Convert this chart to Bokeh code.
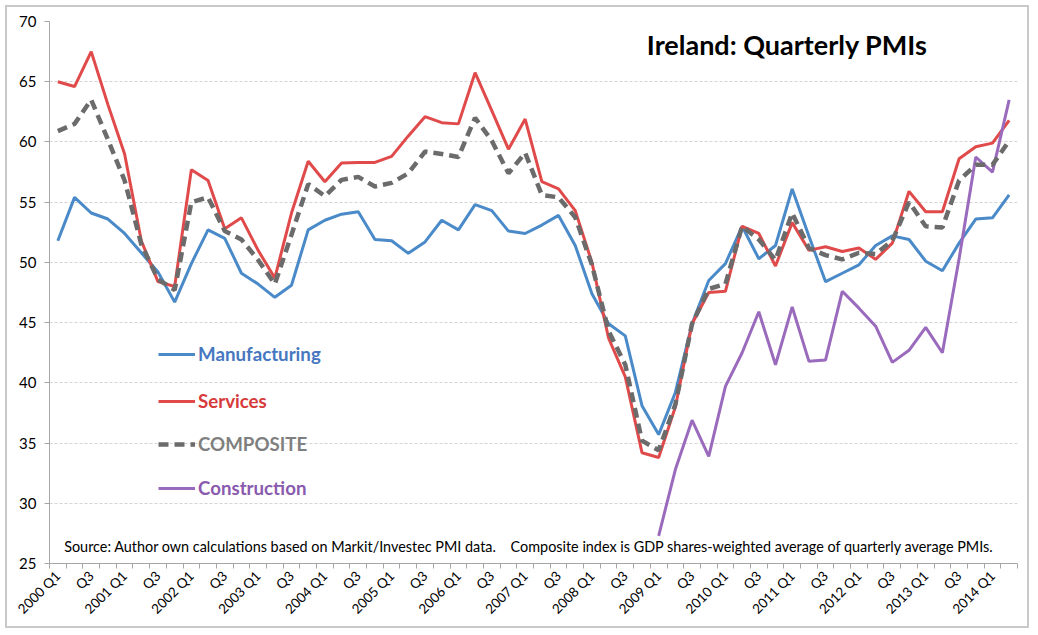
import math
from bokeh.plotting import figure
from bokeh.models import (Range1d, FixedTicker, Legend, LegendItem, Label)
from bokeh.embed import file_html
from bokeh.resources import INLINE

# ---------------- data ----------------
years = list(range(2000, 2015))
quarters = [f"{y} Q{q}" for y in years for q in (1, 2, 3, 4)][:58]  # 2000 Q1 .. 2014 Q2

manufacturing = [51.8, 55.4, 54.1, 53.6, 52.4, 50.8, 49.2, 46.7, 49.9, 52.7,
                 52.0, 49.1, 48.2, 47.1, 48.1, 52.7, 53.5, 54.0, 54.2, 51.9,
                 51.8, 50.75, 51.7, 53.5, 52.7, 54.8, 54.3, 52.6, 52.4, 53.1,
                 53.9, 51.4, 47.4, 44.9, 43.9, 38.1, 35.7, 39.2, 44.9, 48.5,
                 49.9, 53.0, 50.3, 51.4, 56.1, 52.2, 48.4, 49.1, 49.8, 51.4,
                 52.2, 51.9, 50.1, 49.3, 51.6, 53.6, 53.7, 55.6]

services = [65.0, 64.6, 67.5, 63.1, 59.0, 51.8, 48.4, 48.0, 57.7, 56.8,
            52.8, 53.7, 51.0, 48.7, 54.1, 58.4, 56.7, 58.25, 58.3, 58.3,
            58.8, 60.5, 62.1, 61.6, 61.5, 65.75, 62.6, 59.4, 61.9, 56.7,
            56.1, 54.3, 50.0, 43.7, 40.5, 34.2, 33.8, 38.0, 44.9, 47.5,
            47.6, 53.0, 52.4, 49.7, 53.3, 51.0, 51.3, 50.9, 51.2, 50.25,
            51.6, 55.9, 54.2, 54.2, 58.6, 59.6, 59.9, 61.8]

composite = [60.9, 61.5, 63.5, 60.2, 56.8, 51.5, 48.6, 47.7, 55.0, 55.4,
             52.6, 51.9, 50.2, 48.2, 52.3, 56.5, 55.5, 56.85, 57.1, 56.3,
             56.6, 57.4, 59.2, 59.0, 58.75, 62.0, 60.1, 57.4, 59.1, 55.6,
             55.4, 53.75, 49.8, 44.3, 41.5, 35.2, 34.4, 38.2, 44.9, 47.8,
             48.2, 53.0, 51.9, 50.2, 54.1, 51.2, 50.6, 50.25, 50.8, 50.7,
             51.8, 55.0, 53.0, 52.9, 56.8, 58.1, 58.1, 60.1]

# construction series starts 2009 Q1
construction_start = "2009 Q1"
construction = [27.3, 32.8, 36.9, 33.9, 39.7, 42.5, 45.9, 41.5, 46.3, 41.8,
                41.9, 47.6, 46.2, 44.7, 41.7, 42.7, 44.6, 42.5, 50.3, 58.75,
                57.5, 63.5]

y_ticks = [25, 30, 35, 40, 45, 50, 55, 60, 65, 70]

title_text = "Ireland: Quarterly PMIs"
NB = "\u00a0"
source_text = ("Source: Author own calculations based on Markit/Investec PMI data." + NB * 4 +
               "Composite index is GDP shares-weighted average of quarterly average PMIs.")

# ---------------- styling ----------------
FONT = "Lato"
C_MAN = "#4a8ac8"
C_SER = "#e04a4a"
C_COM = "#6b6b6b"
C_CON = "#9a6bbd"
T_MAN = "#4677c0"
T_SER = "#d63a3a"
T_COM = "#7f7f7f"
T_CON = "#8a5aae"

x_all = list(range(len(quarters)))
c0 = quarters.index(construction_start)
x_con = x_all[c0:c0 + len(construction)]

p = figure(width=1024, height=623, output_backend="svg", toolbar_location=None,
           x_range=Range1d(-0.5, len(quarters) - 0.5), y_range=Range1d(25, 70),
           min_border_left=42, min_border_right=14, min_border_top=14,
           min_border_bottom=67)
p.outline_line_color = None
p.background_fill_color = "white"
p.border_fill_color = "white"
p.styles = {"border": "2px solid #c9c9c9", "margin": "5px 0px 0px 5px"}

# axes
p.yaxis.ticker = FixedTicker(ticks=y_ticks)
p.yaxis.axis_line_color = "#a6a6a6"
p.yaxis.major_tick_line_color = "#a6a6a6"
p.yaxis.major_tick_out = 5
p.yaxis.major_tick_in = 0
p.yaxis.minor_tick_line_color = None
p.yaxis.major_label_text_font = FONT
p.yaxis.major_label_text_font_size = "15px"
p.yaxis.major_label_text_color = "black"
p.yaxis.major_label_standoff = 8

label_pos = [i for i, q in enumerate(quarters) if q.endswith("Q1") or q.endswith("Q3")]
overrides = {i: (quarters[i] if quarters[i].endswith("Q1") else "Q3") for i in label_pos}
p.xaxis.ticker = FixedTicker(ticks=label_pos,
                             minor_ticks=[i - 0.5 for i in range(len(quarters) + 1)])
p.xaxis.major_label_overrides = overrides
p.xaxis.major_label_orientation = math.pi / 4
p.xaxis.major_label_text_font = FONT
p.xaxis.major_label_text_font_size = "13.5px"
p.xaxis.major_label_text_color = "black"
p.xaxis.major_label_standoff = 4
p.xaxis.axis_line_color = "#a6a6a6"
p.xaxis.major_tick_line_color = None
p.xaxis.minor_tick_line_color = "#a6a6a6"
p.xaxis.minor_tick_out = 5
p.xaxis.minor_tick_in = 0

p.xgrid.grid_line_color = None
p.ygrid.grid_line_color = "#d4d4d4"
p.ygrid.grid_line_dash = "3 2"
p.ygrid.grid_line_width = 1

# series
r_man = p.line(x_all, manufacturing, line_color=C_MAN, line_width=3)
r_ser = p.line(x_all, services, line_color=C_SER, line_width=3)
r_con = p.line(x_con, construction, line_color=C_CON, line_width=3)
r_com = p.line(x_all, composite, line_color=C_COM, line_width=4.5,
               line_dash="10 6")

# legends, one per series so each label has its own colour
legend_specs = [("Manufacturing", r_man, T_MAN, 198),
                ("Services", r_ser, T_SER, 151),
                ("COMPOSITE", r_com, T_COM, 108),
                ("Construction", r_con, T_CON, 64)]
for name, rend, col, vy in legend_specs:
    lg = Legend(items=[LegendItem(label=name, renderers=[rend])],
                location=(109, vy), orientation="vertical",
                glyph_width=37, glyph_height=20, label_height=20,
                label_standoff=3, padding=0, spacing=0, margin=0,
                border_line_color=None, background_fill_alpha=0,
                label_text_font=FONT, label_text_font_style="bold",
                label_text_font_size="18.7px", label_text_color=col)
    p.add_layout(lg, "center")

# title and source note
p.add_layout(Label(x=43.7, y=68.05, text=title_text, text_font=FONT,
                   text_font_style="bold", text_font_size="27px",
                   text_color="black", text_align="center",
                   text_baseline="middle"))
p.add_layout(Label(x=0.38, y=26.4, text=source_text, text_font=FONT,
                   text_font_size="14.4px", text_color="black",
                   text_align="left", text_baseline="middle"))

open("out.html", "w").write(file_html(p, INLINE))
